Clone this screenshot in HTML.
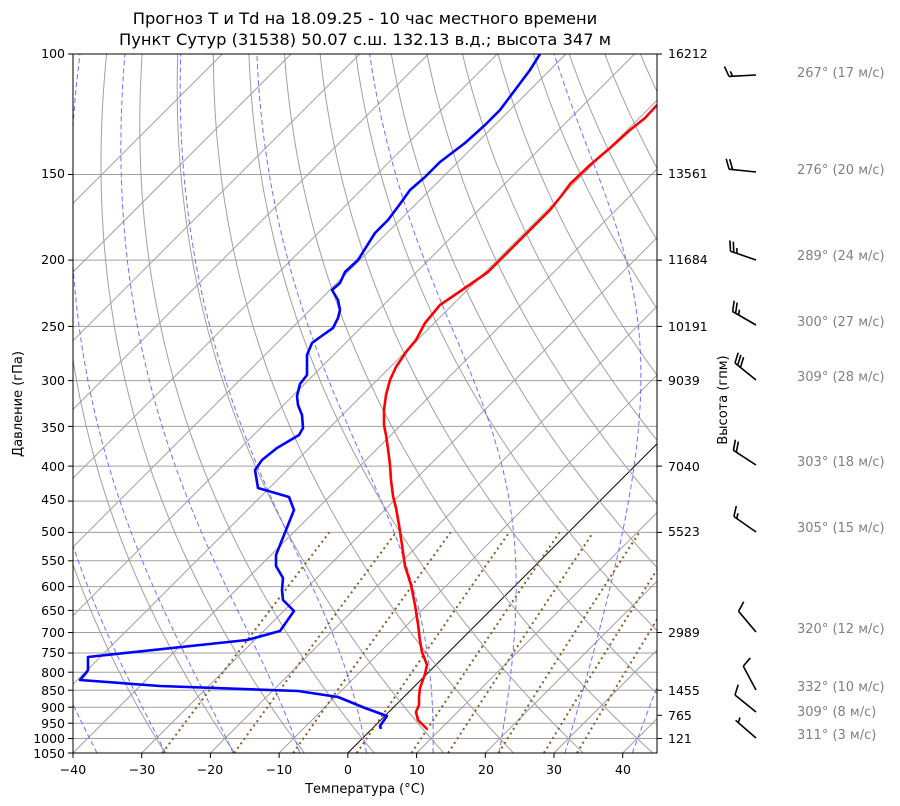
<!DOCTYPE html>
<html><head><meta charset="utf-8"><style>
body{margin:0;background:#fff;}
svg{display:block;font-family:"DejaVu Sans","Liberation Sans",sans-serif;}
</style></head><body>
<svg id="s" width="900" height="806" xmlns="http://www.w3.org/2000/svg">
<defs><clipPath id="c"><rect x="73" y="54" width="584" height="699"/></clipPath></defs>
<rect width="900" height="806" fill="#fff"/>
<g id="grid" clip-path="url(#c)"></g>
<g id="prof" clip-path="url(#c)">
<polyline fill="none" stroke="#ff0000" stroke-width="2.6" stroke-linejoin="round" points="427,729 418,720 416,712 419,705 419,697 420,688 425,674 427,665 422,652 420,641 418,624 415,605 411,585 405,566 402,545 399,525 396,508 393,496 391,480 390,465 388,449 386,435 384,425 384,410 386,395 390,380 396,367 406,352 416,340 425,323 440,305 462,290 488,272 510,250 530,230 550,210 562,195 570,184 590,165 610,148 630,130 645,118 657,105"/>
<polyline fill="none" stroke="#0000ff" stroke-width="2.6" stroke-linejoin="round" points="381,729 380,726 387,716 365,708 338,697 298,691 160,686 80,680 86,673 88,670 88,657 247,640 280,631 294,611 283,600 282,590 283,578 276,566 276,555 286,530 294,510 289,497 258,488 255,470 262,460 277,448 299,435 303,428 302,415 298,405 297,396 300,384 307,375 307,365 307,355 312,343 323,335 333,328 338,318 340,310 338,300 332,290 340,283 345,272 358,260 375,233 388,220 400,204 410,190 425,177 440,162 465,143 485,125 500,110 515,90 530,70 540,54"/>
</g>
<rect x="73" y="54" width="584" height="699" fill="none" stroke="#000" stroke-width="1"/>
<g id="ticks" stroke="#000"></g>
<g font-size="12.5" fill="#000">
<g text-anchor="end">
<text x="65" y="58">100</text><text x="65" y="178">150</text><text x="65" y="264">200</text><text x="65" y="331">250</text><text x="65" y="385">300</text><text x="65" y="432">350</text><text x="65" y="471">400</text><text x="65" y="504">450</text><text x="65" y="536">500</text><text x="65" y="565">550</text><text x="65" y="591">600</text><text x="65" y="615">650</text><text x="65" y="637">700</text><text x="65" y="657">750</text><text x="65" y="677">800</text><text x="65" y="695">850</text><text x="65" y="712">900</text><text x="65" y="728">950</text><text x="65" y="743">1000</text><text x="65" y="758">1050</text>
</g>
<g text-anchor="middle">
<text x="73" y="774">−40</text><text x="142" y="774">−30</text><text x="210" y="774">−20</text><text x="279" y="774">−10</text><text x="348" y="774">0</text><text x="417" y="774">10</text><text x="486" y="774">20</text><text x="554" y="774">30</text><text x="623" y="774">40</text>
</g>
<g>
<text x="668" y="58">16212</text><text x="668" y="178">13561</text><text x="668" y="264">11684</text><text x="668" y="331">10191</text><text x="668" y="385">9039</text><text x="668" y="471">7040</text><text x="668" y="536">5523</text><text x="668" y="637">2989</text><text x="668" y="695">1455</text><text x="668" y="720">765</text><text x="668" y="743">121</text>
</g>
<text x="365" y="793" text-anchor="middle" font-size="13">Температура (°C)</text>
<text transform="translate(22,404) rotate(-90)" text-anchor="middle" font-size="13">Давление (гПа)</text>
<text transform="translate(727,400) rotate(-90)" text-anchor="middle" font-size="13">Высота (гпм)</text>
<text x="365" y="24" text-anchor="middle" font-size="16.3">Прогноз T и Td на 18.09.25 - 10 час местного времени</text>
<text x="365" y="45" text-anchor="middle" font-size="16.3">Пункт Сутур (31538) 50.07 с.ш. 132.13 в.д.; высота 347 м</text>
<g fill="#808080" font-size="13">
<text x="797" y="77">267° (17 м/с)</text><text x="797" y="174">276° (20 м/с)</text><text x="797" y="260">289° (24 м/с)</text><text x="797" y="326">300° (27 м/с)</text><text x="797" y="381">309° (28 м/с)</text><text x="797" y="466">303° (18 м/с)</text><text x="797" y="532">305° (15 м/с)</text><text x="797" y="633">320° (12 м/с)</text><text x="797" y="691">332° (10 м/с)</text><text x="797" y="716">309° (8 м/с)</text><text x="797" y="739">311° (3 м/с)</text>
</g>
</g>
<g id="barbs" stroke="#000" stroke-width="1.6" fill="none"></g>
</svg>
<script>
var NS="http://www.w3.org/2000/svg";
function yP(p){return 753-Math.log(1050/p)/Math.log(10.5)*699;}
function xT(T,p){return 73+6.871*(T+40)+(753-yP(p));}
function line(g,pts,attrs){var e=document.createElementNS(NS,"polyline");e.setAttribute("points",pts.map(function(a){return a[0].toFixed(1)+","+a[1].toFixed(1)}).join(" "));e.setAttribute("fill","none");for(var k in attrs)e.setAttribute(k,attrs[k]);g.appendChild(e);}
var g=document.getElementById("grid");
var P=[100,150,200,250,300,350,400,450,500,550,600,650,700,750,800,850,900,950,1000,1050];
P.forEach(function(p){line(g,[[73,yP(p)],[657,yP(p)]],{stroke:"#a0a0a0","stroke-width":1});});
for(var T=-120;T<=50;T+=10){var a={stroke:T==0?"#000":"#a0a0a0","stroke-width":1};line(g,[[xT(T,1050),753],[xT(T,100),54]],a);}
var ps=[];for(var p=1050;p>=99;p-=5)ps.push(p);
for(var th=-30;th<200;th+=10){var pts=ps.map(function(p){var t=(th+273.15)*Math.pow(p/1000,0.2857)-273.15;return [xT(t,p),yP(p)];});line(g,pts,{stroke:"#a0a0a0","stroke-width":1});}
function es(t){return 6.112*Math.exp(17.67*t/(t+243.5));}
function mgrad(t,p){var T=t+273.15,e=es(t),r=0.622*e/(p-e),Lv=2.501e6,Rd=287,cp=1005,eps=0.622;
 var num=Rd*T+Lv*r, den=cp+Lv*Lv*r*eps/(Rd*T*T);return num/den/p;}
[-36.5,-26.5,-16.7,-7,2.7,12.4,22,31.6,41.4].forEach(function(t0){var t=t0,pts=[];for(var p=1050;p>=100;p-=1){if(p%5==0)pts.push([xT(t,p),yP(p)]);t-=mgrad(t,p)*1;}
 line(g,pts,{stroke:"#6f6fff","stroke-width":1,"stroke-dasharray":"5,3"});});
[0.0004,0.001,0.002,0.004,0.007,0.01,0.016,0.024,0.032].forEach(function(w){var pts=[];for(var p=1050;p>=500;p-=10){var e=w*1000*p/(622+w*1000),l=Math.log(e/6.112),td=243.5*l/(17.67-l);pts.push([xT(td,p),yP(p)]);}
 line(g,pts,{stroke:"#8b5a2b","stroke-width":2,"stroke-dasharray":"2,3.5"});});
var tk=document.getElementById("ticks");
P.forEach(function(p){line(tk,[[68,yP(p)],[73,yP(p)]],{});});
[100,150,200,250,300,400,500,700,850,925,1000].forEach(function(p){line(tk,[[657,yP(p)],[662,yP(p)]],{});});
for(var T=-40;T<=40;T+=10){line(tk,[[xT(T,1050),753],[xT(T,1050),758]],{});}
var bg=document.getElementById("barbs");
var B=[[75,267,17],[172,276,20],[260,289,24],[325,300,27],[380,309,28],[465,303,18],[532,305,15],[632,320,12],[690,332,10],[712,309,8],[738,311,3]];
B.forEach(function(b){var bx=756,by=b[0],d=b[1]*Math.PI/180,L=27;var vx=Math.sin(d),vy=-Math.cos(d);
 var tx=bx+L*vx,ty=by+L*vy;line(bg,[[bx,by],[tx,ty]],{});
 var px=-vy,py=vx;var s=Math.round(b[2]/5)*5,full=Math.floor(s/10),half=(s%10)>=5?1:0;
 var pos=0;for(var i=0;i<full;i++){var sx=tx-vx*pos*3.5,sy=ty-vy*pos*3.5;line(bg,[[sx,sy],[sx+px*10+vx*4,sy+py*10+vy*4]],{});pos++;}
 if(half){if(full==0)pos=1;var sx=tx-vx*pos*3.5,sy=ty-vy*pos*3.5;line(bg,[[sx,sy],[sx+px*5+vx*2,sy+py*5+vy*2]],{});}
});
</script>
</body></html>
